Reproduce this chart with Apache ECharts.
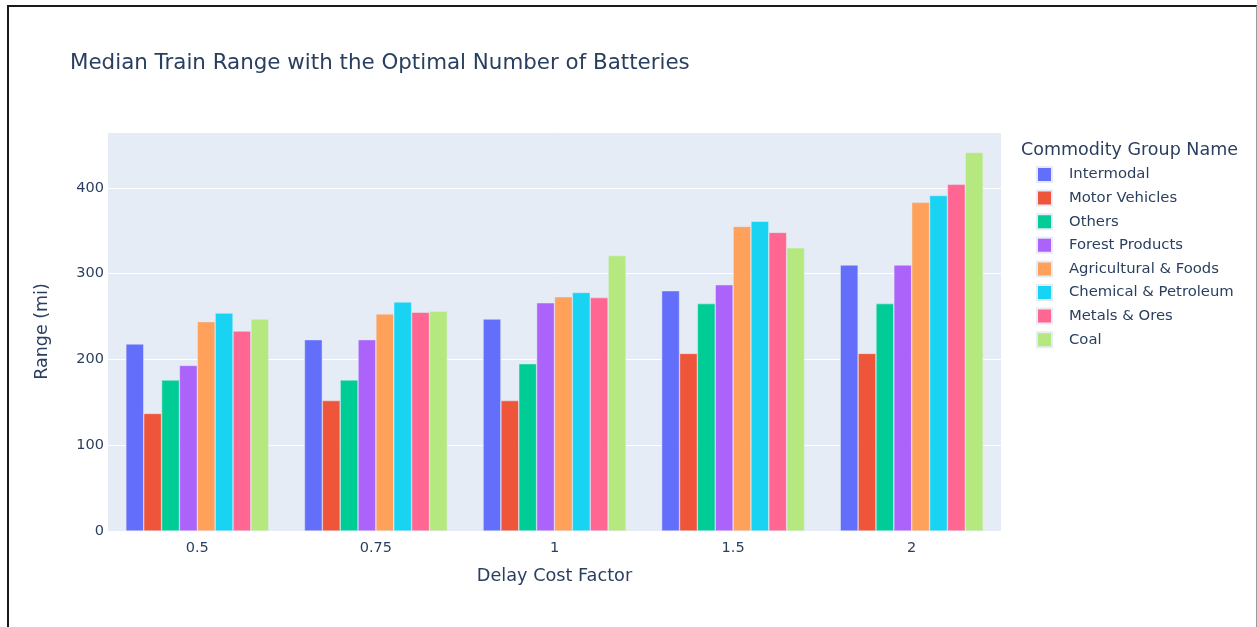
<!DOCTYPE html>
<html>
<head>
<meta charset="utf-8">
<script src="https://cdn.jsdelivr.net/npm/echarts@6/dist/echarts.min.js"></script>
<style>
html,body{margin:0;padding:0;background:#fff;}
#chart{width:1257px;height:627px;position:absolute;left:0;top:0;}
#frame{position:absolute;left:7px;top:5px;width:1247px;height:640px;border-left:2px solid #1a1a1a;border-top:2px solid #1a1a1a;border-right:1px solid #999;pointer-events:none;}
</style>
</head>
<body>
<div id="chart"></div>
<div id="frame"></div>
<script>
const categories = ['0.5', '0.75', '1', '1.5', '2'];
const seriesNames = ['Intermodal', 'Motor Vehicles', 'Others', 'Forest Products', 'Agricultural & Foods', 'Chemical & Petroleum', 'Metals & Ores', 'Coal'];
const intermodal = [218, 223, 247, 280, 310];
const motorVehicles = [137, 152, 152, 207, 207];
const others = [176, 176, 195, 265, 265];
const forestProducts = [193, 223, 266, 287, 310];
const agriculturalFoods = [244, 253, 273, 355, 383];
const chemicalPetroleum = [254, 267, 278, 361, 391];
const metalsOres = [233, 255, 272, 348, 404];
const coal = [247, 256, 321, 330, 441];
const yTicks = [0, 100, 200, 300, 400];

const colors = ['#636efa', '#EF553B', '#00cc96', '#ab63fa', '#FFA15A', '#19d3f3', '#FF6692', '#B6E880'];
const values = [intermodal, motorVehicles, others, forestProducts, agriculturalFoods, chemicalPetroleum, metalsOres, coal];
const FONT = 'DejaVu Sans';
const TXT = '#2a3f5f';

const chart = echarts.init(document.getElementById('chart'), null, {renderer: 'canvas'});
chart.setOption({
  animation: false,
  color: colors,
  textStyle: {fontFamily: FONT, color: TXT},
  title: [
    {text: 'Median Train Range with the Optimal Number of Batteries', left: 65, top: 48,
     textStyle: {fontFamily: FONT, fontSize: 21.4, fontWeight: 'normal', color: TXT}},
    {text: 'Commodity Group Name', left: 1016, top: 136,
     textStyle: {fontFamily: FONT, fontSize: 17.5, fontWeight: 'normal', color: TXT}}
  ],
  legend: {
    orient: 'vertical', left: 1031, top: 161,
    icon: 'rect', itemWidth: 15, itemHeight: 15, itemGap: 6.6,
    textStyle: {fontFamily: FONT, fontSize: 14.8, color: TXT, padding: [0, 0, 0, 12]},
    data: seriesNames
  },
  grid: {left: 108, right: 256, top: 132, bottom: 96, show: true, backgroundColor: '#E5ECF6', borderWidth: 0},
  xAxis: {
    type: 'category', data: categories,
    name: 'Delay Cost Factor', nameLocation: 'middle', nameGap: 36,
    nameTextStyle: {fontFamily: FONT, fontSize: 17.7, color: TXT},
    axisLine: {show: false}, axisTick: {show: false},
    axisLabel: {fontFamily: FONT, fontSize: 14.5, color: TXT, margin: 10}
  },
  yAxis: {
    type: 'value', min: 0, max: 465, interval: 100,
    name: 'Range (mi)', nameLocation: 'middle', nameGap: 57,
    nameTextStyle: {fontFamily: FONT, fontSize: 17.5, color: TXT},
    axisLine: {show: false}, axisTick: {show: false},
    axisLabel: {fontFamily: FONT, fontSize: 14.5, color: TXT, margin: 4,
      formatter: function (v) { return yTicks.indexOf(v) >= 0 ? String(v) : ''; }},
    splitLine: {lineStyle: {color: '#ffffff', width: 1}}
  },
  series: seriesNames.map(function (n, i) {
    return {
      name: n, type: 'bar', data: values[i],
      barGap: '0%', barCategoryGap: '20%',
      itemStyle: {color: colors[i], borderColor: '#E5ECF6', borderWidth: 0.5}
    };
  })
});
</script>
</body>
</html>
